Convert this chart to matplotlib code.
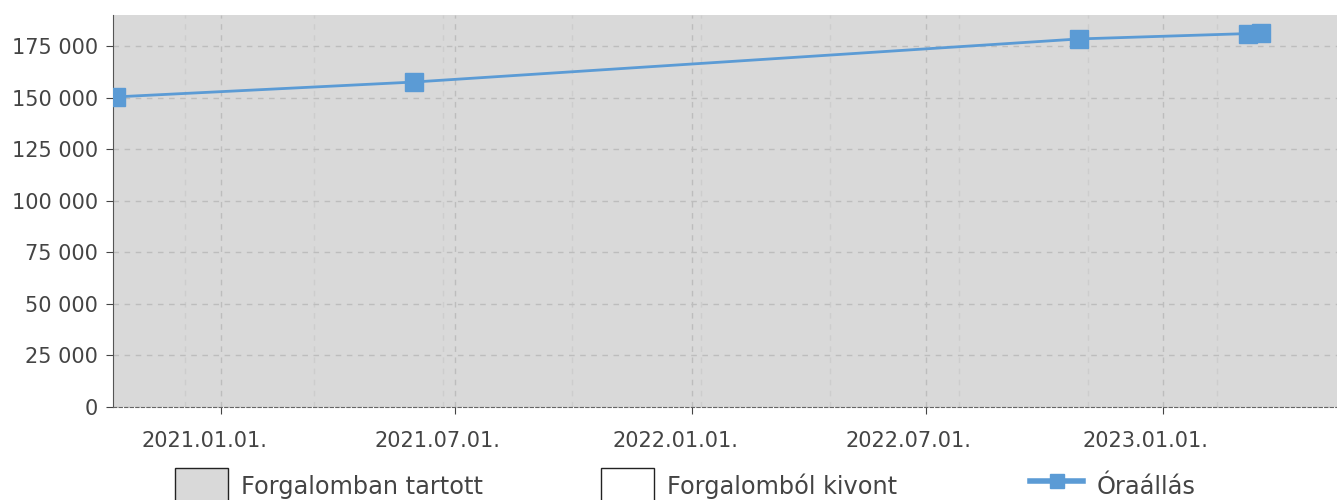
import numpy as np
import matplotlib
matplotlib.use('Agg')
import matplotlib.pyplot as plt
import matplotlib.dates as mdates
import matplotlib.transforms as mtransforms
from matplotlib.patches import Patch
from matplotlib.lines import Line2D
from matplotlib.ticker import FuncFormatter, MultipleLocator
import datetime as dt

# meter readings (Óraállás)
dates = ["2020-10-11", "2021-05-30", "2022-10-28", "2023-03-08", "2023-03-18"]
readings = [150300, 157500, 178400, 181000, 181100]

x_start = "2020-10-09"
x_end = "2023-05-16"
y_max = 190000

legend_labels = ["Forgalomban tartott", "Forgalomból kivont", "Óraállás"]

line_color = "#5b9bd5"
text_color = "#444444"


def fmtThousands(v, pos):
    return "{:,.0f}".format(v).replace(",", " ")


def main():
    d = [dt.datetime.strptime(s, "%Y-%m-%d") for s in dates]
    fig = plt.figure(figsize=(13.37, 5), dpi=100)
    ax = fig.add_axes([0.0845, 0.186, 0.9155, 0.784])
    ax.set_facecolor("#d9d9d9")

    ax.plot(d, readings, color=line_color, linewidth=2, marker="s",
            markersize=13, markeredgecolor=line_color, zorder=3)

    ax.set_xlim(dt.datetime.strptime(x_start, "%Y-%m-%d"),
                dt.datetime.strptime(x_end, "%Y-%m-%d"))
    ax.set_ylim(0, y_max)

    ax.xaxis.set_major_locator(mdates.MonthLocator(bymonth=[1, 7]))
    ax.xaxis.set_major_formatter(mdates.DateFormatter("%Y.%m.%d."))
    ax.xaxis.set_minor_locator(MultipleLocator(100))
    ax.yaxis.set_major_locator(MultipleLocator(25000))
    ax.yaxis.set_major_formatter(FuncFormatter(fmtThousands))

    ax.grid(which="major", linestyle=(0, (4, 4)), color="#bdbdbd", linewidth=1)
    ax.grid(which="minor", axis="x", linestyle=(0, (4, 4)), color="#cdcdcd", linewidth=1)

    for s in ["top", "right"]:
        ax.spines[s].set_visible(False)
    ax.spines["left"].set_color("#555555")
    ax.spines["bottom"].set_color("#666666")
    ax.spines["bottom"].set_linestyle((0, (3, 2)))

    ax.tick_params(axis="both", which="major", labelsize=15, colors=text_color,
                   length=5, pad=6)
    ax.tick_params(axis="x", which="minor", length=0)
    ax.tick_params(axis="x", which="major", pad=12)

    # date labels sit a little to the left of their tick
    shift = mtransforms.ScaledTranslation(-17 / 100, 0, fig.dpi_scale_trans)
    for lbl in ax.get_xticklabels():
        lbl.set_transform(lbl.get_transform() + shift)

    handles = [
        Patch(facecolor="#d9d9d9", edgecolor="#222222", linewidth=1),
        Patch(facecolor="white", edgecolor="#222222", linewidth=1),
        Line2D([], [], color=line_color, linewidth=4, marker="s", markersize=10),
    ]
    lefts = [175, 601, 1030]
    for h, lab, xl in zip(handles, legend_labels, lefts):
        leg = fig.legend([h], [lab], loc="upper left",
                         bbox_to_anchor=((xl - 9.5) / 1337, 0.083), frameon=False,
                         fontsize=17.3, handlelength=2.2, handleheight=1.95,
                         handletextpad=0.55, borderaxespad=0)
        for t in leg.get_texts():
            t.set_color(text_color)

    fig.savefig("out.png", dpi=100)


if __name__ == "__main__":
    main()
